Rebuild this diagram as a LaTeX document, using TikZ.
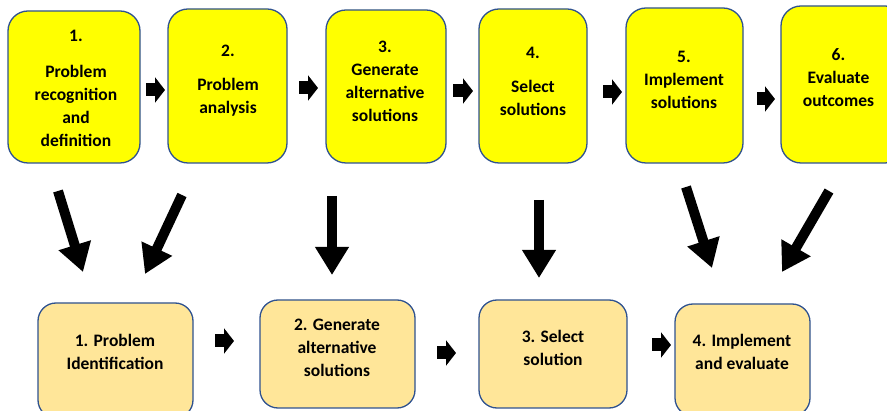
\documentclass[tikz,border=0pt]{standalone}
\usepackage{fontspec}
\setmainfont{Carlito}
\usetikzlibrary{arrows.meta}
\definecolor{topfill}{HTML}{FFFF00}
\definecolor{botfill}{HTML}{FFE699}
\definecolor{edgeblue}{HTML}{2F528F}
\begin{document}
\begin{tikzpicture}[x=1pt,y=-1pt,
  topbox/.style={draw=edgeblue, line width=1.3pt, fill=topfill, rounded corners=20pt, inner sep=0pt},
  botbox/.style={draw=edgeblue, line width=1.3pt, fill=botfill, rounded corners=18pt, inner sep=0pt},
  lbl/.style={font=\fontsize{17.5}{23}\selectfont\bfseries, align=center, inner sep=0pt},
  bigarrow/.style={line width=10pt, -{Triangle[length=28pt,width=32pt]}},
  smallarrow/.style={line width=13pt, -{Triangle[length=10pt,width=25pt]}}]
\useasboundingbox (0,0) rectangle (887,411);
% top boxes
\node[topbox, minimum width=132pt, minimum height=152pt] (t1) at (74,87) {};
\node[topbox, minimum width=119pt, minimum height=154pt] (t2) at (227.5,86) {};
\node[topbox, minimum width=120pt, minimum height=153pt] (t3) at (386,86.5) {};
\node[topbox, minimum width=108pt, minimum height=154pt] (t4) at (533,86) {};
\node[topbox, minimum width=117pt, minimum height=155pt] (t5) at (684.5,85.5) {};
\node[topbox, minimum width=124pt, minimum height=157pt] (t6) at (843,84.5) {};
% top labels
\node[lbl] (l1) at (76,88) {1.\\[13pt]Problem\\recognition\\and\\definition};
\node[lbl] (l2) at (228,81) {2.\\[11pt]Problem\\analysis};
\node[lbl] (l3) at (385,81) {3.\\Generate\\alternative\\solutions};
\node[lbl] (l4) at (533,81) {4.\\[11pt]Select\\solutions};
\node[lbl] (l5) at (684,80) {5.\\Implement\\solutions};
\node[lbl] (l6) at (838.5,78) {6.\\Evaluate\\outcomes};
% bottom boxes
\node[botbox, minimum width=155pt, minimum height=115pt] (b1) at (115.5,360.5) {};
\node[botbox, minimum width=155pt, minimum height=108pt] (b2) at (337.5,354) {};
\node[botbox, minimum width=148pt, minimum height=108pt] (b3) at (553,354) {};
\node[botbox, minimum width=135pt, minimum height=112pt] (b4) at (742.5,360) {};
\node[lbl] (m1) at (115,352) {1. Problem\\Identification};
\node[lbl] (m2) at (337,348) {2. Generate\\alternative\\solutions};
\node[lbl] (m3) at (553,348) {3. Select\\solution};
\node[lbl] (m4) at (742,352) {4. Implement\\and evaluate};
% small arrows top
\coordinate (s1a) at (146,90);  \coordinate (s1b) at (165,90);
\coordinate (s2a) at (299,88);  \coordinate (s2b) at (318,88);
\coordinate (s3a) at (453,91);  \coordinate (s3b) at (473,91);
\coordinate (s4a) at (603,92);  \coordinate (s4b) at (622,92);
\coordinate (s5a) at (757,99);  \coordinate (s5b) at (775,99);
\draw[smallarrow] (s1a) -- (s1b);
\draw[smallarrow] (s2a) -- (s2b);
\draw[smallarrow] (s3a) -- (s3b);
\draw[smallarrow] (s4a) -- (s4b);
\draw[smallarrow] (s5a) -- (s5b);
% small arrows bottom
\coordinate (u1a) at (215,341); \coordinate (u1b) at (234,341);
\coordinate (u2a) at (437,353); \coordinate (u2b) at (456,353);
\coordinate (u3a) at (652,345); \coordinate (u3b) at (671,345);
\draw[smallarrow] (u1a) -- (u1b);
\draw[smallarrow] (u2a) -- (u2b);
\draw[smallarrow] (u3a) -- (u3b);
% big arrows
\coordinate (a1a) at (58,191);  \coordinate (a1b) at (83,272);
\coordinate (a2a) at (182,195); \coordinate (a2b) at (145,274);
\coordinate (a3a) at (332,196); \coordinate (a3b) at (332,275);
\coordinate (a4a) at (539,200); \coordinate (a4b) at (539,278);
\coordinate (a5a) at (686,187); \coordinate (a5b) at (712,268);
\coordinate (a6a) at (829,191); \coordinate (a6b) at (782,272);
\draw[bigarrow] (a1a) -- (a1b);
\draw[bigarrow] (a2a) -- (a2b);
\draw[bigarrow] (a3a) -- (a3b);
\draw[bigarrow] (a4a) -- (a4b);
\draw[bigarrow] (a5a) -- (a5b);
\draw[bigarrow] (a6a) -- (a6b);
\end{tikzpicture}
\end{document}
